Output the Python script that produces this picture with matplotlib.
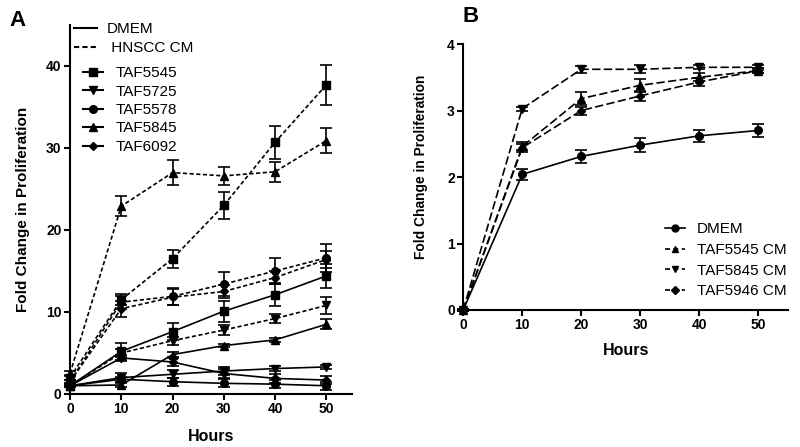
import matplotlib
matplotlib.use("Agg")
import matplotlib.pyplot as plt
from matplotlib.lines import Line2D

plt.rcParams['font.family'] = ['Liberation Sans', 'DejaVu Sans']

hours = [0, 10, 20, 30, 40, 50]

# Panel A - DMEM (solid)
a_dmem_5545 = [1.0, 5.2, 7.6, 10.1, 12.1, 14.4]
a_dmem_5725 = [1.0, 2.0, 2.4, 2.8, 3.1, 3.3]
a_dmem_5578 = [1.0, 1.8, 1.5, 1.3, 1.2, 1.0]
a_dmem_5845 = [1.0, 1.1, 4.8, 5.9, 6.6, 8.5]
a_dmem_6092 = [1.0, 4.4, 3.9, 2.5, 1.9, 1.7]
a_dmem_5545_err = [0.1, 1.0, 1.0, 1.3, 1.4, 1.5]
a_dmem_5725_err = [0.1, 0.5, 0.5, 0.5, 0.3, 0.2]
a_dmem_5578_err = [0.1, 0.3, 0.5, 0.5, 0.5, 0.5]
a_dmem_5845_err = [0.1, 0.3, 0.3, 0.2, 0.2, 0.6]
a_dmem_6092_err = [0.1, 0.4, 0.5, 0.5, 0.5, 0.5]

# Panel A - HNSCC CM (dashed)
a_cm_5545 = [2.0, 11.5, 16.5, 23.0, 30.7, 37.7]
a_cm_5725 = [1.0, 5.0, 6.5, 7.8, 9.2, 10.8]
a_cm_5578 = [1.5, 11.2, 11.9, 13.4, 15.0, 16.6]
a_cm_5845 = [2.5, 22.9, 27.0, 26.6, 27.1, 30.9]
a_cm_6092 = [1.5, 10.4, 11.8, 12.5, 14.2, 16.4]
a_cm_5545_err = [0.3, 0.7, 1.1, 1.6, 2.0, 2.4]
a_cm_5725_err = [0.2, 0.5, 0.5, 0.6, 0.6, 1.0]
a_cm_5578_err = [0.2, 0.8, 1.0, 1.5, 1.6, 1.7]
a_cm_5845_err = [0.3, 1.2, 1.5, 1.1, 1.2, 1.5]
a_cm_6092_err = [0.2, 1.0, 1.0, 0.8, 0.8, 1.0]

# Panel B
b_dmem = [0.0, 2.04, 2.31, 2.48, 2.62, 2.70]
b_5545 = [0.0, 2.46, 3.18, 3.38, 3.50, 3.60]
b_5845 = [0.0, 3.03, 3.62, 3.62, 3.65, 3.65]
b_5946 = [0.0, 2.44, 3.00, 3.22, 3.43, 3.60]
b_dmem_err = [0.02, 0.08, 0.10, 0.10, 0.09, 0.10]
b_5545_err = [0.02, 0.06, 0.10, 0.10, 0.06, 0.04]
b_5845_err = [0.02, 0.03, 0.05, 0.06, 0.03, 0.04]
b_5946_err = [0.02, 0.06, 0.06, 0.08, 0.06, 0.04]

taf_names = ["TAF5545", "TAF5725", "TAF5578", "TAF5845", "TAF6092"]
taf_markers = ["s", "v", "o", "^", "D"]
b_names = ["DMEM", "TAF5545 CM", "TAF5845 CM", "TAF5946 CM"]

fig = plt.figure(figsize=(8, 4.47), dpi=100)
axA = fig.add_axes([0.0875, 0.1186, 0.3525, 0.8255])
axB = fig.add_axes([0.579, 0.3065, 0.406, 0.595])

dotted = (0, (2.5, 1.5))
dashed = (0, (5, 2))

def series(ax, y, err, marker, ls, ms=5.5):
    ms_use = ms - 1 if marker == "D" else ms
    ax.errorbar(hours, y, yerr=err, color="black", marker=marker, markersize=ms_use,
                linestyle=ls, linewidth=1.2, elinewidth=1.2, capsize=4, capthick=1.2,
                clip_on=False)

dmem_a = [a_dmem_5545, a_dmem_5725, a_dmem_5578, a_dmem_5845, a_dmem_6092]
dmem_a_err = [a_dmem_5545_err, a_dmem_5725_err, a_dmem_5578_err, a_dmem_5845_err, a_dmem_6092_err]
cm_a = [a_cm_5545, a_cm_5725, a_cm_5578, a_cm_5845, a_cm_6092]
cm_a_err = [a_cm_5545_err, a_cm_5725_err, a_cm_5578_err, a_cm_5845_err, a_cm_6092_err]

for y, e, m in zip(dmem_a, dmem_a_err, taf_markers):
    series(axA, y, e, m, "-")
for y, e, m in zip(cm_a, cm_a_err, taf_markers):
    series(axA, y, e, m, dotted)

series(axB, b_dmem, b_dmem_err, "o", "-")
series(axB, b_5545, b_5545_err, "^", dashed)
series(axB, b_5845, b_5845_err, "v", dashed)
series(axB, b_5946, b_5946_err, "D", dashed)

for ax in (axA, axB):
    ax.spines["top"].set_visible(False)
    ax.spines["right"].set_visible(False)
    ax.spines["left"].set_linewidth(1.5)
    ax.spines["bottom"].set_linewidth(1.5)
    ax.tick_params(direction="out", length=4, width=1.5, labelsize=10, pad=2)
    ax.set_xlim(0, 55)
    ax.set_xticks(hours)
    ax.set_xlabel("Hours", fontsize=11.5, fontweight="bold")

axA.set_ylim(0, 45)
axA.set_yticks([0, 10, 20, 30, 40])
axB.set_ylim(0, 4)
axB.set_yticks([0, 1, 2, 3, 4])
axA.set_ylabel("Fold Change in Proliferation", fontsize=11, fontweight="bold")
axB.set_ylabel("Fold Change in Proliferation", fontsize=9.9, fontweight="bold")
for ax in (axA, axB):
    for lbl in ax.get_xticklabels() + ax.get_yticklabels():
        lbl.set_fontweight("bold")

axA.xaxis.set_label_coords(0.5, -0.095)
axA.yaxis.set_label_coords(-0.142, 0.5)
axB.xaxis.set_label_coords(0.5, -0.125)
axB.yaxis.set_label_coords(-0.108, 0.538)

# Panel A legends
h1 = [Line2D([], [], color="black", linewidth=1.5, linestyle="-"),
      Line2D([], [], color="black", linewidth=1.5, linestyle=dotted)]
fig.legend(h1, ["DMEM", " HNSCC CM"], loc="upper left", bbox_to_anchor=(0.0925, 0.951),
           bbox_transform=fig.transFigure, borderpad=0, borderaxespad=0,
           frameon=False, fontsize=11, handlelength=1.5, handletextpad=0.65,
           labelspacing=0.35)
h2 = [Line2D([], [], color="black", linewidth=1.5, marker=m, markersize=5.5 if m != "D" else 4.5)
      for m in taf_markers]
fig.legend(h2, taf_names, loc="upper left", bbox_to_anchor=(0.104, 0.852),
           bbox_transform=fig.transFigure, borderpad=0, borderaxespad=0,
           frameon=False, fontsize=11, handlelength=1.3, handletextpad=0.8,
           labelspacing=0.29)

# Panel B legend
hb = [Line2D([], [], color="black", linewidth=1.2, linestyle="-", marker="o", markersize=5),
      Line2D([], [], color="black", linewidth=1.2, linestyle=(0, (3, 2)), marker="^", markersize=5),
      Line2D([], [], color="black", linewidth=1.2, linestyle=(0, (3, 2)), marker="v", markersize=5),
      Line2D([], [], color="black", linewidth=1.2, linestyle=(0, (3, 2)), marker="D", markersize=4)]
fig.legend(hb, b_names, loc="upper left", bbox_to_anchor=(0.831, 0.503),
           bbox_transform=fig.transFigure, borderpad=0, borderaxespad=0,
           frameon=False, fontsize=11, handlelength=1.3, handletextpad=0.8,
           labelspacing=0.44)

fig.text(0.012, 0.955, "A", fontsize=16, fontweight="bold", va="center", ha="left")
fig.text(0.578, 0.962, "B", fontsize=16, fontweight="bold", va="center", ha="left")

fig.savefig("out.png", dpi=100)
